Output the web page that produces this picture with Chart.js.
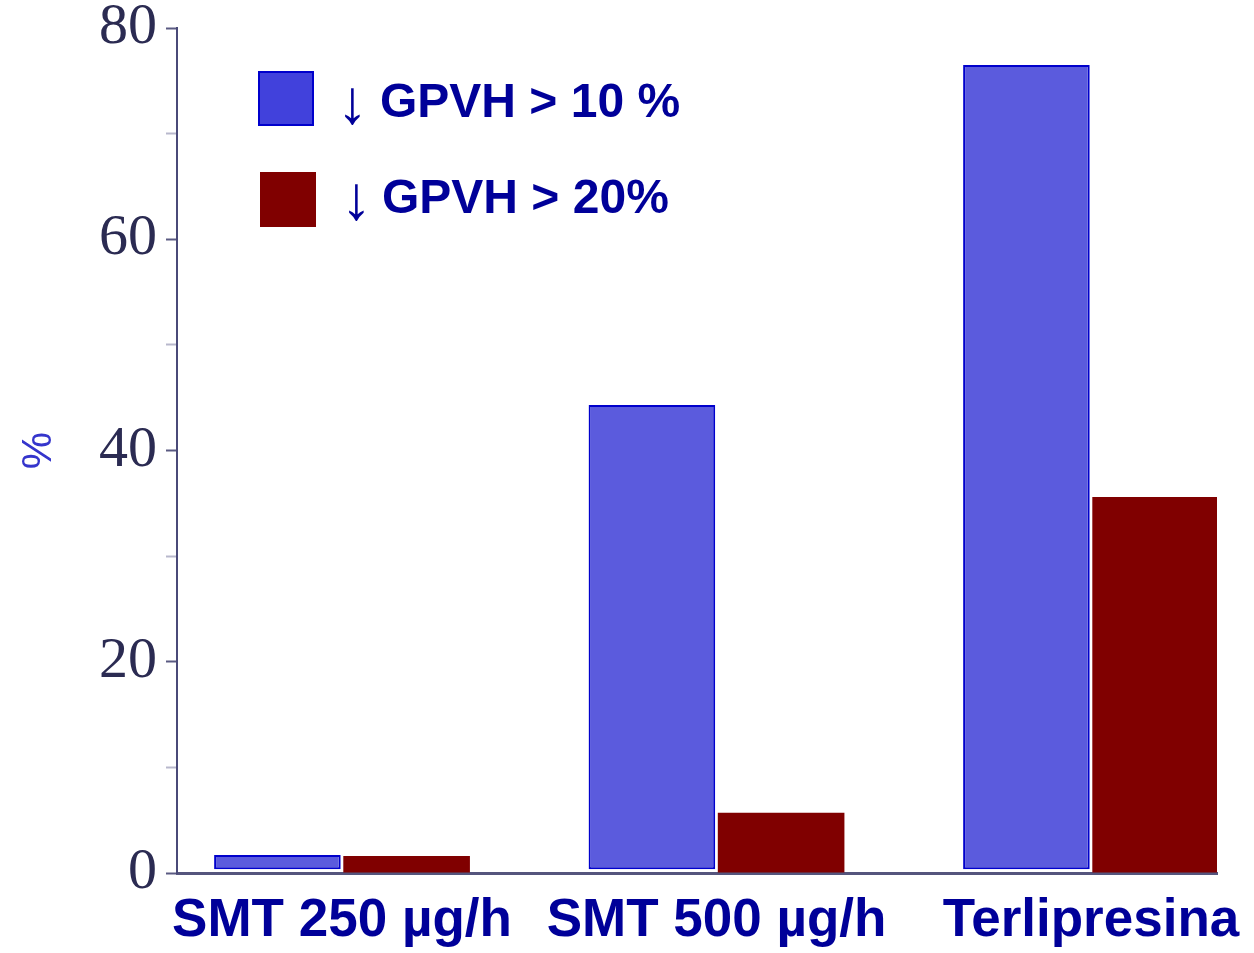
<!DOCTYPE html>
<html>
<head>
<meta charset="utf-8">
<script src="https://cdn.jsdelivr.net/npm/chart.js@4"></script>
<style>
  html, body { margin: 0; padding: 0; background: #fff; }
  canvas { display: block; }
</style>
</head>
<body>
<canvas id="grafico" width="1254" height="953"></canvas>
<script>
// grupos de tratamiento y su posición en el eje x
const categorias = ["SMT 250 µg/h", "SMT 500 µg/h", "Terlipresina"];
const posiciones = [0, 1, 2];

// % de pacientes con descenso del GPVH
const caida10 = [1.7, 44.3, 76.5];
const caida20 = [1.6, 5.7, 35.6];
const etiquetas = ["↓ GPVH > 10 %", "↓ GPVH > 20%"];

// marcas del eje y que llevan número
const ticksY = [0, 20, 40, 60, 80];

// leyenda dibujada a mano: flecha fina + texto en negrita
const leyenda = {
  id: 'leyenda',
  afterDraw(chart) {
    const ctx = chart.ctx;
    ctx.save();
    chart.data.datasets.forEach((ds, i) => {
      const bx = 258 + i * 2, by = 71 + i * 101;
      const base = 117 + i * 96;
      ctx.fillStyle = ds.cajaColor || ds.backgroundColor;
      ctx.fillRect(bx, by, 56, 55);
      if (ds.borderWidth) {
        ctx.lineWidth = 2;
        ctx.strokeStyle = ds.borderColor;
        ctx.strokeRect(bx + 1, by + 1, 54, 53);
      }
      ctx.fillStyle = '#000099';
      ctx.textBaseline = 'alphabetic';
      ctx.textAlign = 'left';
      ctx.font = '62px "Liberation Serif"';
      ctx.fillText(ds.label.slice(0, 1), 337 + i * 4, base + 6);
      ctx.font = 'bold 48px "Liberation Sans"';
      ctx.fillText(ds.label.slice(2), 380 + i * 2, base);
    });
    ctx.restore();
  }
};

new Chart(document.getElementById('grafico'), {
  type: 'bar',
  data: {
    datasets: [
      {
        label: etiquetas[0],
        data: posiciones.map((x, i) => ({ x: x, y: caida10[i] })),
        backgroundColor: '#5b5bdd',
        cajaColor: '#4141dc',
        borderColor: '#0000cc',
        borderWidth: 2,
        borderSkipped: false,
        base: 0.35
      },
      {
        label: etiquetas[1],
        data: posiciones.map((x, i) => ({ x: x, y: caida20[i] })),
        backgroundColor: '#800000',
        borderWidth: 0
      }
    ]
  },
  options: {
    responsive: false,
    animation: false,
    layout: { padding: { top: 28, right: 37, bottom: 0, left: 0 } },
    datasets: { bar: { categoryPercentage: 0.69, barPercentage: 0.98 } },
    plugins: { legend: { display: false }, tooltip: { enabled: false } },
    scales: {
      x: {
        type: 'linear',
        offset: false,
        min: -0.4406,
        max: 2.3364,
        afterBuildTicks: s => { s.ticks = posiciones.map(v => ({ value: v })); },
        afterFit: s => {
          s.height = 80;
          s.paddingLeft = 0;
          s.paddingRight = 0;
        },
        grid: { display: false, drawTicks: false, offset: false },
        border: { display: true, color: '#55557d', width: 3 },
        ticks: {
          callback: v => categorias[v],
          autoSkip: false,
          maxRotation: 0,
          padding: 17,
          color: '#000099',
          font: { family: 'Liberation Sans', size: 53, weight: 'bold' }
        }
      },
      y: {
        min: 0,
        max: 80,
        afterFit: s => {
          s.width = 177;
          s.paddingTop = 0;
          s.paddingBottom = 0;
        },
        ticks: {
          stepSize: 10,
          autoSkip: false,
          callback: v => ticksY.includes(v) ? v : '',
          padding: 9,
          color: '#2b2b52',
          font: { family: 'Liberation Serif', size: 58, lineHeight: 1 }
        },
        grid: {
          drawOnChartArea: false,
          drawTicks: true,
          tickLength: 11,
          tickWidth: 2,
          tickColor: c => ticksY.includes(c.tick.value) ? '#5a5a82' : '#b8b8cc'
        },
        border: { color: '#4a4a78', width: 2 },
        title: {
          display: true,
          text: '%',
          color: '#3535cc',
          padding: { top: 14, bottom: 0 },
          font: { family: 'Liberation Sans', size: 42 }
        }
      }
    }
  },
  plugins: [leyenda]
});
</script>
</body>
</html>
